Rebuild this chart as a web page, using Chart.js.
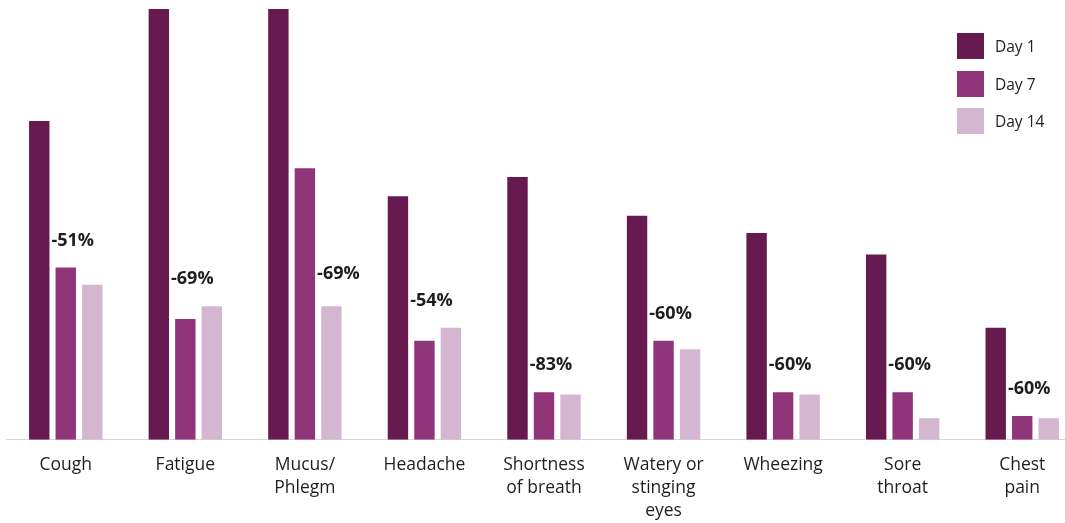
<!DOCTYPE html>
<html>
<head>
<meta charset="utf-8">
<script src="https://cdn.jsdelivr.net/npm/chart.js@4"></script>
<style>
  html, body { margin: 0; padding: 0; background: #fff; overflow: hidden; }
  #wrap { position: relative; width: 1082px; height: 537px; }
  #legend { position: absolute; left: 957px; top: 33px; font-family: "Open Sans", sans-serif; font-size: 15.5px; color: #222; }
  #legend .item { display: flex; align-items: center; height: 26px; margin-bottom: 11.5px; }
  #legend .box { width: 27px; height: 26px; margin-right: 11px; }
</style>
</head>
<body>
<div id="wrap">
  <canvas id="symptomChart"></canvas>
  <div id="legend"></div>
</div>
<script>
// síntomas y valores por día
const symptoms = [['Cough'], ['Fatigue'], ['Mucus/', 'Phlegm'], ['Headache'], ['Shortness', 'of breath'],
  ['Watery or', 'stinging', 'eyes'], ['Wheezing'], ['Sore', 'throat'], ['Chest', 'pain']];
const day1 = [74, 100, 100, 56.5, 61, 52, 48, 43, 26];
const day7 = [40, 28, 63, 23, 11, 23, 11, 11, 5.5];
const day14 = [36, 31, 31, 26, 10.5, 21, 10.5, 5, 5];
const changeLabels = ['-51%', '-69%', '-69%', '-54%', '-83%', '-60%', '-60%', '-60%', '-60%'];

const seriesNames = ['Day 1', 'Day 7', 'Day 14'];
const seriesColors = ['#661a4f', '#90357a', '#d4b6d0'];

// etiquetas de variación sobre cada grupo
const changePlugin = {
  id: 'changeLabels',
  afterDatasetsDraw(chart) {
    const ctx = chart.ctx;
    const m1 = chart.getDatasetMeta(0).data;
    const m7 = chart.getDatasetMeta(1).data;
    const m14 = chart.getDatasetMeta(2).data;
    ctx.save();
    ctx.font = 'bold 18px "Open Sans", sans-serif';
    ctx.fillStyle = '#1e1e1e';
    ctx.textAlign = 'left';
    ctx.textBaseline = 'middle';
    changeLabels.forEach((txt, i) => {
      const b1 = m1[i], b7 = m7[i], b14 = m14[i];
      let x, y;
      if (b7.y < b14.y - 50) {
        // barra del día 7 alta: la etiqueta va sobre la del día 14
        x = b7.x + b7.width / 2 + 2;
        y = b14.y - 32;
      } else {
        x = b1.x + b1.width / 2 + 2;
        y = Math.min(b7.y, b14.y) - 27;
      }
      ctx.fillText(txt, x, y);
    });
    ctx.restore();
  }
};

const ctx = document.getElementById('symptomChart').getContext('2d');
const chart = new Chart(ctx, {
  type: 'bar',
  data: {
    labels: symptoms,
    datasets: [day1, day7, day14].map((d, i) => ({
      label: seriesNames[i],
      data: d,
      backgroundColor: seriesColors[i],
      categoryPercentage: 0.665,
      barPercentage: 0.77
    }))
  },
  options: {
    responsive: true,
    maintainAspectRatio: false,
    animation: false,
    layout: { padding: { left: 6, right: 0, top: 9, bottom: 0 } },
    plugins: { legend: { display: false }, tooltip: { enabled: false } },
    scales: {
      x: {
        grid: { display: false, drawTicks: false },
        border: { display: true, color: '#d6d6d6', width: 1 },
        ticks: {
          padding: 14,
          color: '#1e1e1e',
          maxRotation: 0,
          autoSkip: false,
          font: { family: '"Open Sans", sans-serif', size: 17.5, lineHeight: 1.32 }
        }
      },
      y: { display: false, min: 0, max: 100 }
    }
  },
  plugins: [changePlugin]
});

// leyenda
const legendEl = document.getElementById('legend');
seriesNames.forEach((name, i) => {
  const item = document.createElement('div');
  item.className = 'item';
  item.innerHTML = `<div class="box" style="background:${seriesColors[i]}"></div><span>${name}</span>`;
  legendEl.appendChild(item);
});
</script>
</body>
</html>
